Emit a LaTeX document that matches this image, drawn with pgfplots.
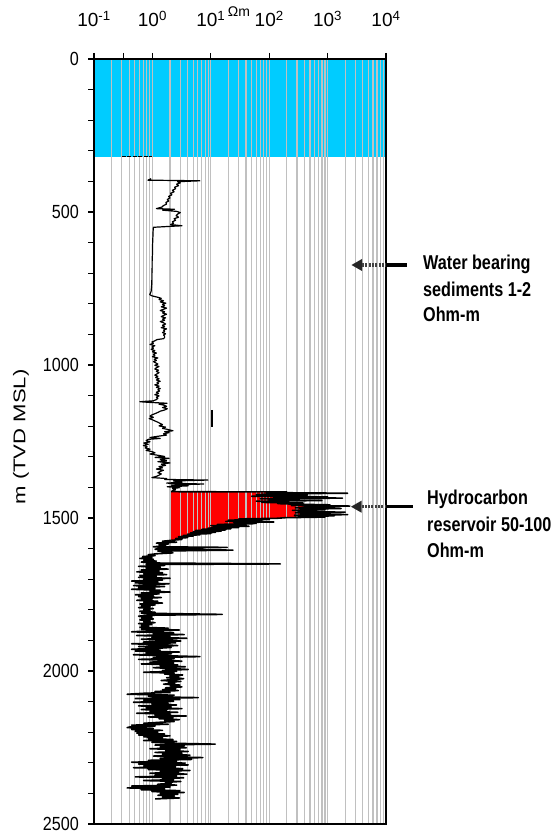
\documentclass[border=0pt]{standalone}
\usepackage{fontspec}
\setmainfont{Liberation Sans}
\newfontfamily\condfont{Liberation Sans}[FakeStretch=0.85]
\newfontfamily\notefont{Liberation Sans}[FakeStretch=0.81]
\newfontfamily\widefont{Liberation Sans}[FakeStretch=1.3]
\usepackage{pgfplots}
\usepackage{pgfplotstable}
\pgfplotsset{compat=1.18}

\definecolor{seawater}{RGB}{0,204,255}
\definecolor{pay}{RGB}{255,0,0}
\definecolor{gridgray}{RGB}{192,192,192}

% Resistivity log (ohm-m) against depth (m TVD MSL), split into three runs
\pgfplotstableread{
depth res
391 0.95
396 0.84
398 6.5
401 2.7
405 3.0
409 2.6
414 2.8
419 2.4
424 2.5
429 2.2
434 2.35
439 2.05
444 2.15
449 1.9
454 2.0
459 1.8
464 1.9
469 1.7
474 1.75
479 1.55
484 1.45
489 1.17
491 2.4
494 1.5
498 2.6
502 3.0
507 2.7
512 2.55
517 2.8
522 2.35
527 2.5
532 2.2
537 2.3
541 2.05
545 3.2
547 2.0
550 1.04
560 1.03
580 1.02
600 1.01
620 1.0
640 1.0
660 0.99
680 0.99
700 0.98
720 0.98
740 0.97
760 0.95
770 0.9
774 0.98
778 1.2
782 1.42
786 1.3
790 1.55
794 1.36
798 1.7
802 1.49
806 1.62
810 1.42
814 1.75
818 1.55
822 1.36
826 1.62
830 1.49
834 1.75
838 1.55
842 1.42
846 1.68
850 1.49
854 1.62
858 1.36
862 1.55
866 1.68
870 1.49
874 1.62
878 1.42
882 1.75
886 1.55
890 1.62
894 1.49
898 1.68
902 1.55
906 1.62
910 1.62
914 1.55
917 1.2
921 1.1
925 0.98
929 1.04
933 0.91
937 1.1
941 0.98
945 1.04
949 0.95
953 1.1
957 1.0
961 1.17
965 1.04
969 1.1
973 1.0
977 1.24
981 1.07
985 1.17
989 1.04
993 1.14
997 1.24
1001 1.1
1005 1.3
1009 1.17
1013 1.1
1017 1.27
1021 1.17
1025 1.3
1029 1.2
1033 1.1
1037 1.24
1041 1.14
1045 1.3
1049 1.17
1053 1.36
1057 1.2
1061 1.27
1065 1.1
1069 1.3
1073 1.17
1077 1.36
1081 1.24
1085 1.33
1089 1.17
1093 1.27
1097 1.1
1101 1.3
1105 1.17
1109 1.24
1113 1.17
1117 1.04
1120 0.61
1122 0.85
1125 1.78
1128 1.3
1131 1.55
1135 1.75
1139 1.49
1143 1.8
1147 1.62
1151 1.36
1155 1.24
1159 1.11
1163 0.98
1167 0.91
1171 1.04
1175 0.88
1179 1.0
1183 1.11
1187 1.24
1191 1.36
1195 1.49
1199 1.3
1203 1.68
1207 1.49
1211 1.87
1215 2.25
1218 1.62
1221 1.93
1225 1.55
1229 1.75
1233 1.24
1237 0.91
1240 1.36
1243 0.85
1247 0.78
1251 0.91
1255 0.71
1259 0.85
1263 0.7
1267 0.81
1271 0.75
1275 0.91
1279 0.78
1283 0.98
1287 1.11
1291 0.91
1295 1.24
1299 1.62
1302 1.11
1305 1.93
1309 1.36
1313 1.75
1316 1.24
1320 2.0
1324 1.42
1328 1.68
1332 1.3
1336 1.49
1340 1.17
1344 1.55
1348 1.36
1352 1.24
1356 1.42
1360 1.3
1364 1.17
1368 0.98
1371 1.75
1374 1.62
1376 8.9
1379 2.3
1383 3.2
1386 1.75
1389 7.6
1392 2.1
1395 4.1
1398 1.8
1401 2.9
1404 2.2
1408 2.5
1411 2.2
1414 2.1
}\upperlog

% Hydrocarbon interval; the first and last rows sit on the 2.1 ohm-m shale line
\pgfplotstableread{
depth res
1414 2.1
1415 200
1417 90
1419 2200
1421 160
1423 60
1425 450
1427 140
1429 50
1431 1000
1433 120
1435 1800
1437 70
1439 280
1441 100
1443 800
1445 60
1447 190
1449 75
1451 380
1453 140
1455 300
1457 1100
1459 240
1461 2400
1463 400
1465 1300
1467 280
1469 1700
1471 350
1473 900
1475 250
1477 650
1479 320
1481 2000
1483 280
1485 1100
1487 350
1489 2200
1491 270
1493 1300
1495 320
1497 900
1499 190
1501 135
1503 30
1505 100
1507 20
1509 75
1511 18
1513 120
1515 25
1517 60
1519 50
1521 13
1523 40
1525 10
1527 45
1529 11
1531 30
1533 9
1535 22
1537 7
1539 18
1541 5.5
1543 15
1545 5
1547 12
1549 4.5
1551 10
1553 4
1555 6.5
1557 3.4
1559 5
1561 2.8
1564 4
1567 2.5
1570 3.2
1573 2.1
}\reservoir

\pgfplotstableread{
depth res
1573 2.1
1576 1.49
1579 2.6
1582 1.17
1585 1.87
1588 1.3
1591 1.68
1594 1.04
1596 19
1599 1.36
1602 1.11
1605 24
1608 1.24
1611 1.75
1614 2.25
1617 1.17
1620 0.85
1623 1.11
1626 0.68
1629 0.98
1632 0.61
1635 1.04
1638 0.71
1641 1.17
1644 0.645
1647 0.91
1650 155
1652 0.78
1655 1.62
1658 0.58
1661 1.36
1664 0.78
1667 1.87
1670 0.645
1673 1.3
1676 0.54
1679 1.49
1682 0.71
1685 1.75
1688 0.61
1691 1.17
1694 0.58
1697 2.0
1700 0.71
1703 1.49
1706 0.44
1709 1.24
1712 0.51
1715 1.93
1718 0.85
1721 0.475
1724 1.62
1727 0.58
1730 1.11
1733 0.44
1736 1.36
1739 0.91
1742 2.0
1745 0.645
1748 1.3
1751 0.51
1754 1.04
1757 0.58
1760 1.42
1763 0.645
1766 0.98
1769 0.54
1772 1.24
1775 0.71
1778 1.49
1781 0.61
1784 1.11
1787 0.645
1790 0.91
1793 0.58
1796 1.04
1799 0.71
1802 0.91
1805 0.61
1808 1.11
1811 0.645
1815 15.7
1818 0.78
1821 0.58
1824 0.98
1827 0.645
1830 1.04
1833 0.61
1836 0.91
1839 0.71
1842 1.11
1845 0.58
1848 0.98
1851 0.645
1854 0.85
1857 0.61
1860 1.87
1863 0.645
1866 2.9
1869 0.85
1872 0.44
1875 2.3
1878 1.04
1881 3.5
1884 0.54
1887 2.0
1890 0.98
1893 3.9
1896 0.645
1899 1.68
1902 3.07
1905 0.71
1908 2.5
1911 0.44
1914 1.49
1917 2.72
1920 0.58
1923 2.1
1926 1.17
1929 0.44
1932 1.36
1935 0.51
1938 2.9
1941 0.78
1944 2.1
1947 0.475
1950 1.62
1953 6.5
1956 1.04
1959 2.36
1962 0.58
1965 1.87
1968 3.2
1971 0.91
1974 2.3
1977 0.645
1980 2.72
1983 1.36
1986 3.66
1989 1.04
1992 2.17
1995 4.1
1998 1.49
2001 2.6
2004 0.71
2007 2.36
2010 1.62
2013 3.3
2016 2.0
2019 2.84
2022 1.75
2025 3.43
2028 2.25
2031 1.42
2034 3.07
2037 1.87
2040 2.42
2043 1.55
2046 2.95
2049 2.05
2052 3.2
2055 1.68
2058 2.5
2061 1.49
2064 2.78
2067 1.11
2070 2.0
2073 0.68
2076 0.37
2079 2.36
2082 0.85
2085 1.62
2087 6.1
2090 0.51
2093 2.95
2096 0.71
2099 2.3
2102 0.475
2105 1.87
2108 0.98
2111 2.6
2114 0.58
2117 2.1
2120 0.78
2123 3.2
2126 0.645
2129 1.75
2132 0.91
2135 2.72
2138 0.54
2141 2.0
2144 1.11
2147 3.8
2150 0.85
2153 2.25
2156 1.3
2159 2.9
2162 1.62
2165 2.36
2168 1.24
2171 0.71
2174 1.87
2177 0.44
2180 1.11
2183 0.41
2185 0.37
2188 1.04
2191 0.44
2194 1.49
2197 0.51
2200 1.24
2203 0.54
2206 1.62
2209 0.58
2212 2.0
2215 0.71
2218 1.49
2221 0.85
2224 2.25
2227 0.71
2230 2.6
2233 0.98
2236 2.0
2239 11.9
2242 1.11
2245 3.5
2248 1.36
2251 3.8
2254 0.91
2257 2.95
2260 1.68
2263 4.1
2266 1.11
2269 3.2
2272 1.49
2275 4.4
2278 1.04
2281 2.72
2283 7.3
2286 1.36
2289 4.7
2292 0.85
2295 2.6
2298 0.44
2301 3.66
2304 0.58
2307 4.1
2310 0.71
2313 2.5
2316 0.475
2319 3.3
2322 0.85
2325 4.4
2328 1.36
2331 2.84
2334 0.91
2337 3.9
2340 1.11
2343 2.6
2346 0.51
2349 3.43
2352 1.49
2355 2.3
2358 0.71
2361 3.07
2364 1.68
2367 2.1
2370 1.24
2373 2.6
2376 0.44
2379 2.0
2382 0.37
2385 1.62
2388 0.645
2391 2.95
2394 0.98
2397 3.5
2400 1.36
2403 2.72
2406 1.24
2409 2.36
2412 1.49
2415 2.9
2418 1.11
}\lowerlog

\begin{document}
\begin{tikzpicture}
\begin{axis}[
  set layers,
  scale only axis, width=292pt, height=765pt,
  at={(94pt,9pt)}, anchor=south west,
  xmode=log, xmin=0.1, xmax=10000,
  ymin=0, ymax=2500, y dir=reverse,
  axis line style={line width=1.1pt},
  xtick={0.1,1,10,100,1000,10000},
  xticklabels={10\textsuperscript{-1},10\textsuperscript{0},10\textsuperscript{1},10\textsuperscript{2},10\textsuperscript{3},10\textsuperscript{4}},
  extra x ticks={0.316}, extra x tick labels={},
  extra x tick style={grid=none},
  ytick={0,500,...,2500},
  extra y ticks={100,200,300,400,600,700,800,900,1100,1200,1300,1400,1600,1700,1800,1900,2100,2200,2300,2400},
  extra y tick labels={},
  extra y tick style={grid=none},
  xtick pos=right, xticklabel pos=right,
  ytick pos=left,
  tick align=outside,
  major tick length=6pt, minor tick length=0pt,
  tick style={black, line width=1.1pt},
  xmajorgrids, xminorgrids,
  major grid style={gridgray, line width=1.2pt},
  minor grid style={gridgray, line width=1.2pt},
  xticklabel style={font=\fontsize{19}{19}\selectfont, inner sep=0pt, anchor=south},
  xticklabel shift=26pt,
  yticklabel style={font=\condfont\fontsize{19}{19}\selectfont, inner sep=0pt, anchor=east},
  yticklabel shift=9pt,
  /pgf/number format/assume math mode=true,
  /pgf/number format/1000 sep={},
  logline/.style={black, line width=1.6pt, line join=round, mark=none},
]
% sea water column
\addplot[fill=seawater, draw=none, on layer=axis background]
  coordinates {(0.1,0) (10000,0) (10000,321) (0.1,321)} -- cycle;
% pay zone shading between the shale line and the log
\addplot[fill=pay, draw=none, on layer=axis background]
  table[x=res, y=depth] {\reservoir} -- cycle;
% seabed marker
\addplot[black, line width=1.3pt, dash pattern=on 4pt off 1.5pt]
  coordinates {(0.30,318) (0.98,318)};
% resistivity curve
\addplot[logline, line width=1.2pt] table[x=res, y=depth] {\upperlog};
\addplot[logline] table[x=res, y=depth] {\reservoir};
\addplot[logline] table[x=res, y=depth] {\lowerlog};
% short isolated reading
\addplot[black, line width=1.1pt] coordinates {(10.5,1147) (10.5,1203)};
\end{axis}

% axis titles
\node[font=\fontsize{14}{14}\selectfont, inner sep=0pt] at (239pt,821pt) {Ωm};
\node[font=\widefont\fontsize{17}{17}\selectfont, rotate=90, inner sep=0pt] at (21pt,396pt) {m (TVD MSL)};

% water bearing sediments annotation
\fill[black!85] (351.5pt,568pt) -- (362pt,574pt) -- (362pt,562pt) -- cycle;
\draw[black!75, line width=3.2pt, dash pattern=on 2pt off 1.3pt] (362pt,568pt) -- (386pt,568pt);
\draw[black, line width=3.2pt] (386pt,568pt) -- (407pt,568pt);
\begin{scope}[every node/.style={font=\notefont\bfseries\fontsize{20}{20}\selectfont, anchor=base west, inner sep=0pt}]
\node at (423pt,563pt) {Water bearing};
\node at (423pt,536.5pt) {sediments 1-2};
\node at (423pt,511pt) {Ohm-m};
\end{scope}

% hydrocarbon reservoir annotation
\fill[black!85] (351pt,326.3pt) -- (361.5pt,332.3pt) -- (361.5pt,320.3pt) -- cycle;
\draw[black!75, line width=3.2pt, dash pattern=on 2pt off 1.3pt] (361.5pt,326.3pt) -- (386pt,326.3pt);
\draw[black, line width=3.2pt] (386pt,326.3pt) -- (413pt,326.3pt);
\begin{scope}[every node/.style={font=\notefont\bfseries\fontsize{20}{20}\selectfont, anchor=base west, inner sep=0pt}]
\node at (427pt,328pt) {Hydrocarbon};
\node at (427pt,301pt) {reservoir 50-100};
\node at (427pt,275pt) {Ohm-m};
\end{scope}

\pgfresetboundingbox
\path[use as bounding box] (0pt,0pt) rectangle (556pt,833pt);
\end{tikzpicture}
\end{document}
